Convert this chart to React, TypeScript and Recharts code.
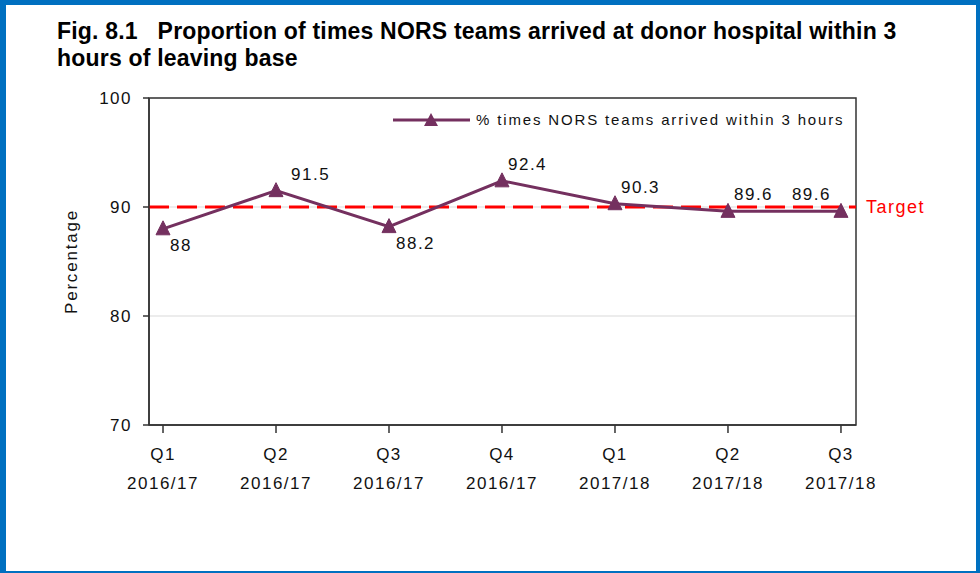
import React from 'react';
import { LineChart, Line, XAxis, YAxis, CartesianGrid, ReferenceLine, ReferenceArea, Legend, LabelList } from 'recharts';

const quarters = ['Q1', 'Q2', 'Q3', 'Q4', 'Q1', 'Q2', 'Q3'];
const years = ['2016/17', '2016/17', '2016/17', '2016/17', '2017/18', '2017/18', '2017/18'];
const values = [88, 91.5, 88.2, 92.4, 90.3, 89.6, 89.6];
const yTicks = [70, 80, 90, 100];
const xTicks = [0, 1, 2, 3, 4, 5, 6];
const target = 90;
const labelSides = ['below', 'above', 'below', 'above', 'above', 'above', 'left'];
const seriesName = '% times NORS teams arrived within 3 hours';

const data = values.map((v, i) => ({ idx: i, value: v }));

const X_DOMAIN: [number, number] = [-0.124, 6.133];
const LINE = '#74305F';
const AXIS = '#333333';
const FONT = '"Liberation Sans", Arial, sans-serif';

const Triangle = (props: any) => {
  const { cx, cy } = props;
  if (cx == null || cy == null) return null;
  return <polygon points={`${cx},${cy - 8} ${cx + 7},${cy + 6} ${cx - 7},${cy + 6}`} fill={LINE} stroke={LINE} strokeWidth={1} />;
};

const XTick = (props: any) => {
  const { x, y, payload } = props;
  const i = payload.value;
  return (
    <g>
      <text x={x} y={y + 25} textAnchor="middle" fontSize={17} fill="#111" fontFamily={FONT} letterSpacing={1.5}>{quarters[i]}</text>
      <text x={x} y={y + 54} textAnchor="middle" fontSize={17} fill="#111" fontFamily={FONT} letterSpacing={1.5}>{years[i]}</text>
    </g>
  );
};

const PointLabel = (props: any) => {
  const { x, y, value, index } = props;
  const side = labelSides[index];
  let tx = x + 6;
  let ty = y - 11;
  let anchor: 'start' | 'end' = 'start';
  if (side === 'below') { tx = x + 7; ty = y + 22; }
  if (side === 'above' && index === 1) { tx = x + 15; }
  if (side === 'left') { tx = x - 10; anchor = 'end'; }
  return (
    <text x={tx} y={ty} textAnchor={anchor} fontSize={17} fill="#111" fontFamily={FONT} letterSpacing={1.5}>{value}</text>
  );
};

const LegendContent = () => (
  <div style={{ display: 'flex', alignItems: 'center', fontFamily: FONT, fontSize: 15, letterSpacing: 1.85, color: '#111', whiteSpace: 'nowrap' }}>
    <svg width={80} height={16} style={{ marginRight: 6 }}>
      <line x1={3} y1={8} x2={80} y2={8} stroke={LINE} strokeWidth={3} />
      <polygon points="41,1 48,14 34,14" fill={LINE} />
    </svg>
    <span>{seriesName}</span>
  </div>
);

export default function App() {
  return (
    <div style={{ position: 'absolute', left: 0, top: 0, width: 980, height: 573, boxSizing: 'border-box', borderStyle: 'solid', borderColor: '#0070C0', borderWidth: '5px 4px 2px 6px', background: '#fff', overflow: 'hidden' }}>
      <div style={{ position: 'absolute', left: 51, top: 13, fontFamily: '"Liberation Sans", Arial, sans-serif', fontWeight: 'bold', fontSize: 23, lineHeight: '27px', letterSpacing: 0.2, color: '#000', width: 910, whiteSpace: 'nowrap' }}>
        <div>Fig. 8.1&nbsp;&nbsp;&nbsp;Proportion of times NORS teams arrived at donor hospital within 3</div>
        <div>hours of leaving base</div>
      </div>
      <div style={{ position: 'absolute', left: -6, top: -5 }}>
        <LineChart width={980} height={573} data={data} margin={{ top: 98, right: 124, bottom: 88, left: 89 }}>
          <CartesianGrid horizontal vertical={false} stroke="#d9d9d9" strokeWidth={1} />
          <ReferenceArea x1={X_DOMAIN[0]} x2={X_DOMAIN[1]} y1={70} y2={100} fill="none" fillOpacity={0} stroke={AXIS} strokeWidth={1.5} />
          <XAxis dataKey="idx" type="number" domain={X_DOMAIN} ticks={xTicks} allowDataOverflow height={60}
            axisLine={{ stroke: AXIS, strokeWidth: 1.5 }} tickLine={{ stroke: AXIS, strokeWidth: 1.5 }} tickSize={8} tick={<XTick />} interval={0} />
          <YAxis domain={[70, 100]} ticks={yTicks} width={60} axisLine={{ stroke: AXIS, strokeWidth: 1.5 }} tickLine={{ stroke: AXIS, strokeWidth: 1.5 }}
            tickSize={6} tickMargin={11} tick={{ fontSize: 17, fill: '#111', fontFamily: FONT, letterSpacing: 1.5 }}
            label={{ value: 'Percentage', angle: -90, position: 'insideLeft', offset: -18, style: { fontSize: 17, fill: '#111', fontFamily: FONT, letterSpacing: 1.8, textAnchor: 'middle' } }} />
          <ReferenceLine y={target} stroke="#FF0000" strokeWidth={3} strokeDasharray="20 8"
            label={{ value: 'Target', position: 'right', offset: 10, fill: '#FF0000', fontSize: 18, fontFamily: FONT, letterSpacing: 1.5 }} />
          <Legend layout="horizontal" verticalAlign="middle" align="center" content={<LegendContent />} wrapperStyle={{ top: 111, left: 390, width: 'auto' }} />
          <Line type="linear" dataKey="value" name={seriesName} stroke={LINE} strokeWidth={3} dot={<Triangle />} activeDot={false} isAnimationActive={false}>
            <LabelList dataKey="value" content={<PointLabel />} />
          </Line>
        </LineChart>
      </div>
    </div>
  );
}
